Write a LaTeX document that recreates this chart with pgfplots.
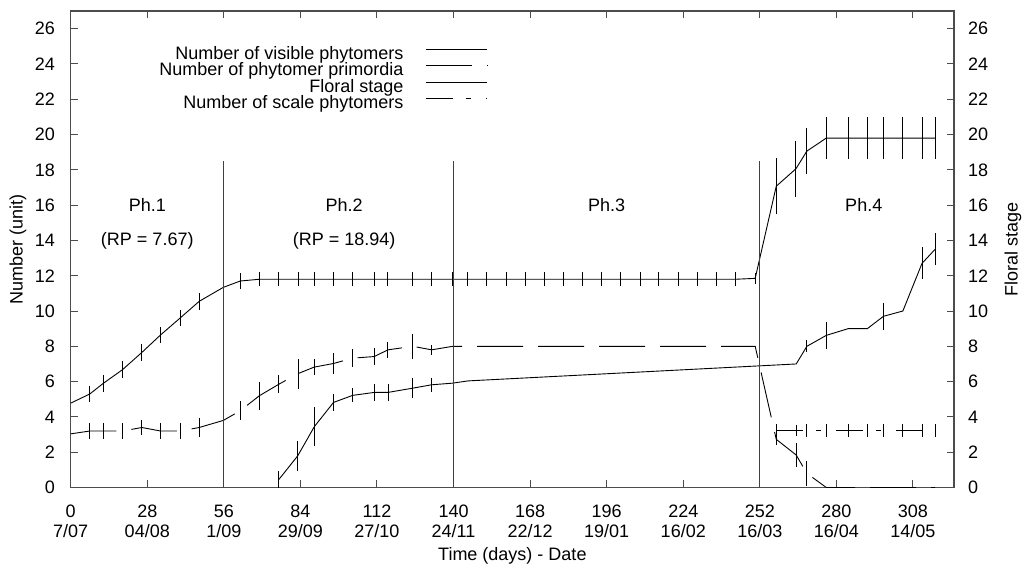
\documentclass[border=0pt]{standalone}
\usepackage{pgfplots}
\pgfplotsset{compat=1.18}
\usepackage{pgfplotstable}
\usepackage{fontspec}
\setmainfont{Liberation Sans}
\newcommand\lab{\fontsize{18}{20}\selectfont}

% x = day, y = mean, e = half error bar
\pgfplotstableread{
x y e
0 4.78 0
7.0 5.30 0.47
11.9 5.90 0.50
18.9 6.67 0.47
26.0 7.65 0.47
32.9 8.65 0.47
40.0 9.60 0.47
47.0 10.55 0.47
55.8 11.34 0.66
62.0 11.70 0.47
69.0 11.80 0.40
76.1 11.80 0.40
83.1 11.80 0.40
89.0 11.80 0.40
96.2 11.80 0.40
103.1 11.80 0.40
111.0 11.80 0.40
116.0 11.80 0.40
125.1 11.80 0.40
132.0 11.80 0.40
139.7 11.80 0.40
145.2 11.80 0.40
152.2 11.80 0.40
159.2 11.80 0.40
166.2 11.80 0.40
173.2 11.80 0.40
180.2 11.80 0.40
187.3 11.80 0.40
194.2 11.80 0.40
201.2 11.80 0.40
208.2 11.80 0.40
215.1 11.80 0.40
222.2 11.80 0.40
229.2 11.80 0.40
236.3 11.80 0.40
243.2 11.80 0.40
250.3 11.85 0.33
258.0 17.07 1.60
265.2 18.06 1.60
269.2 19.06 1.30
276.3 19.80 1.17
284.3 19.80 1.17
291.2 19.80 1.17
297.2 19.80 1.17
304.3 19.80 1.17
311.3 19.80 1.17
316.1 19.80 1.17
}\visible

\pgfplotstableread{
x y e
0 3.04 0
7.0 3.20 0.45
11.9 3.20 0.45
19.0 3.20 0.45
26.0 3.40 0.45
32.9 3.20 0.45
40.0 3.20 0.45
47.0 3.40 0.55
55.8 3.80 0.80
62.0 4.35 0.55
69.0 5.20 0.80
76.1 5.85 0.50
83.1 6.45 0.85
89.0 6.82 0.45
96.2 7.03 0.60
103.1 7.33 0.50
111.0 7.42 0.50
116.0 7.80 0.45
125.1 8.00 0.70
132.0 7.80 0.30
139.7 8.00 0
250.3 8.00 0
258.0 2.73 0.35
265.3 1.84 0.70
269.2 0.80 0.70
276.3 0 0
284.3 0 0
291.2 0 0
297.2 0 0
304.3 0 0
311.3 0 0
316.1 0 0
}\primordia

\pgfplotstableread{
x y e
76.1 0.45 0.48
83.0 1.79 0.83
89.1 3.45 1.10
96.1 4.82 0.50
103.1 5.22 0.40
111.1 5.39 0.50
116.1 5.39 0.50
125.1 5.63 0.55
132.0 5.82 0.40
139.5 5.91 0
145.3 6.04 0
265.3 7.00 0
269.2 8.00 0.35
276.3 8.62 0.75
284.3 9.00 0
291.3 9.00 0
297.2 9.70 0.75
304.3 10.00 0
311.3 12.70 0.90
316.1 13.50 0.90
}\floral

\pgfplotstableread{
x y e
258.0 3.22 0.40
265.3 3.22 0.30
269.2 3.22 0.35
276.3 3.22 0.35
284.3 3.22 0.35
291.3 3.22 0.35
297.2 3.22 0.35
304.3 3.22 0.35
311.3 3.22 0.35
316.1 3.22 0.35
}\scale

\begin{document}
\begin{tikzpicture}
\pgfplotsset{
  base/.style={
    scale only axis, width=883.3pt, height=476.5pt,
    xmin=0, xmax=323, ymin=0, ymax=27,
    ytick={0,2,...,26},
    tick align=inside, major tick length=7pt,
    axis line style={draw=black!70, line width=1.2pt},
    major tick style={black!70, line width=1pt},
    tick label style={font=\lab},
    label style={font=\lab},
    /pgf/number format/assume math mode=true,
  },
  ebar/.style={error bars/.cd, y dir=both, y explicit, error mark=none,
    error bar style={solid, line width=0.9pt}},
}
\begin{axis}[base, name=ax,
  xtick={0,28,...,308},
  xticklabels={{0\\7/07},{28\\04/08},{56\\1/09},{84\\29/09},{112\\27/10},{140\\24/11},
    {168\\22/12},{196\\19/01},{224\\16/02},{252\\16/03},{280\\16/04},{308\\14/05}},
  xticklabel style={align=center, anchor=north, inner sep=0pt, yshift=-17.5pt},
  yticklabel style={anchor=east, inner sep=0pt, xshift=-15.5pt},
  xlabel={Time (days) - Date},
  xlabel style={at={(axis description cs:0.5,0)}, anchor=base, yshift=-73.5pt},
  ylabel={Number (unit)},
  ylabel style={at={([xshift=-52.7pt]axis description cs:0,0.5)}, anchor=center},
  legend style={at={(axis cs:152.6,25.0)}, anchor=north east, draw=none, fill=none,
    inner sep=0pt, column sep=22pt, font=\lab,
    nodes={inner sep=0pt, text height=13pt, text depth=3.5pt}},
  legend cell align=right, legend plot pos=right,
  legend image code/.code={\path (0pt,0pt); \draw[#1] (0pt,5.5pt) -- (61.5pt,5.5pt);},
]
\addplot[black, line width=0.9pt, ebar] table[x=x, y=y, y error=e] {\visible};
\addplot[black, line width=0.9pt, dash pattern=on 46pt off 15pt, ebar] table[x=x, y=y, y error=e] {\primordia};
\addplot[black, line width=0.9pt, ebar] table[x=x, y=y, y error=e] {\floral};
\addplot[black, line width=0.9pt, dash pattern=on 27pt off 13pt on 5pt off 15pt, ebar] table[x=x, y=y, y error=e] {\scale};
\legend{Number of visible phytomers, Number of phytomer primordia, Floral stage, Number of scale phytomers}

\addplot[forget plot, black!75, line width=1pt] coordinates {(56,0) (56,18.5)};
\addplot[forget plot, black!75, line width=1pt] coordinates {(140,0) (140,18.5)};
\addplot[forget plot, black!75, line width=1pt] coordinates {(252,0) (252,18.5)};

\node[font=\lab] at (axis cs:28,16) {Ph.1};
\node[font=\lab] at (axis cs:28,14) {(RP = 7.67)};
\node[font=\lab] at (axis cs:100,16) {Ph.2};
\node[font=\lab] at (axis cs:100,14) {(RP = 18.94)};
\node[font=\lab] at (axis cs:196,16) {Ph.3};
\node[font=\lab] at (axis cs:290,16) {Ph.4};
\end{axis}

\begin{axis}[base,
  axis x line=none, axis y line*=right,
  axis line style={draw=none}, major tick style={draw=none},
  yticklabel style={anchor=west, inner sep=0pt, xshift=14pt},
  ylabel={Floral stage},
  ylabel style={at={([xshift=59pt]axis description cs:1,0.5)}, anchor=center},
]
\addplot[draw=none, forget plot] coordinates {(0,0)};
\end{axis}

\pgfresetboundingbox
\path ([shift={(-70.7pt,-77.5pt)}]ax.south west) rectangle ([shift={(70pt,11pt)}]ax.north east);
\end{tikzpicture}
\end{document}
